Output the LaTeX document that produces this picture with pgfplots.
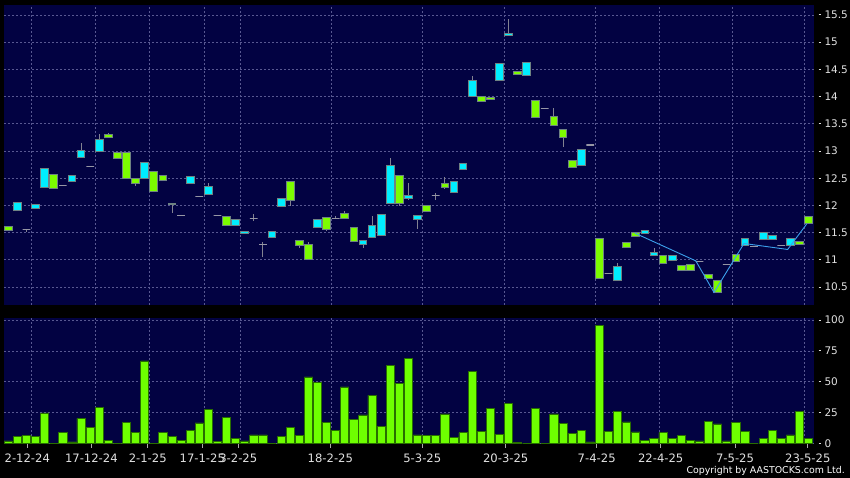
\documentclass[border=0pt]{standalone}
\usepackage{pgfplots}
\pgfplotsset{compat=1.18}
\usepackage{pgfplotstable}
\usepgfplotslibrary{statistics}
\usepackage{fontspec}
\setmainfont{DejaVu Sans}
\definecolor{navy}{RGB}{2,2,66}
\definecolor{gridc}{RGB}{88,88,145}
\definecolor{cgreen}{RGB}{124,252,0}
\definecolor{ccyan}{RGB}{0,238,255}
\definecolor{cborder}{RGB}{110,130,130}
\definecolor{wick}{RGB}{130,130,145}
\definecolor{dojic}{RGB}{150,150,165}
\definecolor{vfill}{RGB}{110,255,0}
\definecolor{vdraw}{RGB}{40,110,0}
\definecolor{lineblue}{RGB}{60,160,235}
\definecolor{labelc}{RGB}{225,225,225}
\definecolor{tickc}{RGB}{170,170,170}

\pgfplotstableread{
i v
1 1.9
2 5.9
3 6.5
4 5.9
5 24.6
6 0
7 8.6
8 1.1
9 20.3
10 13.0
11 28.9
12 2.4
13 0
14 17.0
15 8.6
16 66.8
17 0
18 8.9
19 5.9
20 2.4
21 10.5
22 16.5
23 27.3
24 1.4
25 20.8
26 3.8
27 1.9
28 6.8
29 6.8
30 0
31 5.9
32 13.2
33 6.5
34 53.8
35 49.5
36 16.8
37 10.3
38 45.7
39 19.5
40 23.0
41 38.9
42 13.8
43 63.5
44 48.4
45 68.9
46 6.8
47 6.2
48 6.2
49 23.8
50 5.1
51 8.6
52 58.6
53 9.7
54 28.1
55 7.3
56 32.2
57 0.8
58 0
59 28.1
60 0
61 23.8
62 16.2
63 7.8
64 10.8
65 1.1
66 95.7
67 9.7
68 25.7
69 17.3
70 9.2
71 2.7
72 4.3
73 8.6
74 3.8
75 6.2
76 2.7
77 1.9
78 17.6
79 15.7
80 1.9
81 17.0
82 9.7
83 0
84 3.8
85 10.3
86 4.3
87 6.8
88 25.9
89 3.8
}\voltable

\newcommand{\candle}[6]{\addplot[#6, boxplot/draw direction=y, boxplot prepared={draw position=#1, lower whisker=#4, lower quartile=#2, median=#2, upper quartile=#3, upper whisker=#5}] coordinates {};}
\newcommand{\dashmark}{\rule[0.33em]{2.5bp}{0.8bp}\hspace{3.5bp}}

\pgfplotsset{
  cG/.style={boxplot/every box/.style={draw=cborder, fill=cgreen, line width=0.9bp},
             boxplot/every whisker/.style={draw=wick, line width=0.9bp},
             boxplot/every median/.style={draw=none}},
  cC/.style={boxplot/every box/.style={draw=cborder, fill=ccyan, line width=0.9bp},
             boxplot/every whisker/.style={draw=wick, line width=0.9bp},
             boxplot/every median/.style={draw=none}},
  cD/.style={boxplot/every box/.style={draw=dojic, line width=1.2bp},
             boxplot/every whisker/.style={draw=wick, line width=0.9bp},
             boxplot/every median/.style={draw=none}},
  panel/.style={
    scale only axis, anchor=south west,
    width=810.3bp, xmin=0.527, xmax=89.63,
    axis background/.style={fill=navy},
    axis line style={draw=none},
    grid=major,
    major grid style={draw=gridc, dash pattern=on 2bp off 2bp, line width=0.7bp},
    major tick length=0pt,
    xtick={3.57,10.61,16.55,22.55,26.51,36.56,46.52,55.54,65.59,72.58,80.61,88.53},
    xticklabels={},
    xtick pos=bottom,
    ytick pos=right, yticklabel pos=right,
    yticklabel style={anchor=west, inner sep=0pt, xshift=4bp, text=labelc,
      font=\fontsize{10.5bp}{12bp}\selectfont},
  }
}

\begin{document}
\begin{tikzpicture}
\fill[black] (0bp,0bp) rectangle (850bp,478bp);
% price panel
\begin{axis}[panel, at={(4bp,173bp)}, height=300bp,
  ymin=10.169, ymax=15.684,
  ytick={10.5,11,11.5,12,12.5,13,13.5,14,14.5,15,15.5},
  yticklabels={{\dashmark10.5},{\dashmark11},{\dashmark11.5},{\dashmark12},{\dashmark12.5},{\dashmark13},{\dashmark13.5},{\dashmark14},{\dashmark14.5},{\dashmark15},{\dashmark15.5}},
  boxplot/draw direction=y, boxplot/box extend=0.85, boxplot/whisker extend=0]
\candle{1}{11.54}{11.61}{11.54}{11.61}{cG}
\candle{2}{11.91}{12.06}{11.91}{12.06}{cC}
\candle{3}{11.55}{11.55}{11.52}{11.55}{cD}
\candle{4}{11.95}{12.02}{11.95}{12.02}{cC}
\candle{5}{12.33}{12.68}{12.33}{12.68}{cC}
\candle{6}{12.31}{12.57}{12.31}{12.57}{cG}
\candle{7}{12.36}{12.36}{12.36}{12.36}{cD}
\candle{8}{12.44}{12.55}{12.44}{12.55}{cC}
\candle{9}{12.88}{13.01}{12.88}{13.15}{cC}
\candle{10}{12.72}{12.72}{12.72}{12.72}{cD}
\candle{11}{13.00}{13.21}{13.00}{13.31}{cC}
\candle{12}{13.25}{13.31}{13.25}{13.34}{cG}
\candle{13}{12.87}{12.98}{12.87}{12.98}{cG}
\candle{14}{12.50}{12.98}{12.50}{12.98}{cG}
\candle{15}{12.41}{12.50}{12.36}{12.50}{cG}
\candle{16}{12.50}{12.79}{12.50}{12.79}{cC}
\candle{17}{12.26}{12.63}{12.26}{12.63}{cG}
\candle{18}{12.46}{12.55}{12.46}{12.55}{cG}
\candle{19}{12.01}{12.04}{11.86}{12.04}{cG}
\candle{20}{11.81}{11.81}{11.81}{11.81}{cD}
\candle{21}{12.41}{12.53}{12.41}{12.53}{cC}
\candle{22}{12.17}{12.17}{12.17}{12.17}{cD}
\candle{23}{12.20}{12.35}{12.20}{12.41}{cC}
\candle{24}{11.82}{11.82}{11.82}{11.82}{cD}
\candle{25}{11.63}{11.80}{11.63}{11.80}{cG}
\candle{26}{11.63}{11.74}{11.63}{11.74}{cC}
\candle{27}{11.48}{11.52}{11.48}{11.52}{cC}
\candle{28}{11.76}{11.76}{11.72}{11.84}{cD}
\candle{29}{11.28}{11.28}{11.06}{11.33}{cD}
\candle{30}{11.41}{11.53}{11.41}{11.53}{cC}
\candle{31}{11.98}{12.13}{11.98}{12.13}{cC}
\candle{32}{12.10}{12.44}{11.99}{12.44}{cG}
\candle{33}{11.26}{11.36}{11.22}{11.36}{cG}
\candle{34}{11.00}{11.29}{11.00}{11.33}{cG}
\candle{35}{11.59}{11.74}{11.59}{11.74}{cC}
\candle{36}{11.55}{11.78}{11.53}{11.78}{cG}
\candle{37}{11.76}{11.76}{11.76}{11.81}{cD}
\candle{38}{11.76}{11.85}{11.76}{11.89}{cG}
\candle{39}{11.33}{11.60}{11.33}{11.60}{cG}
\candle{40}{11.28}{11.36}{11.22}{11.36}{cC}
\candle{41}{11.41}{11.63}{11.41}{11.80}{cC}
\candle{42}{11.45}{11.84}{11.45}{11.84}{cC}
\candle{43}{12.04}{12.74}{12.04}{12.88}{cC}
\candle{44}{12.04}{12.55}{11.99}{12.55}{cG}
\candle{45}{12.12}{12.19}{12.10}{12.41}{cC}
\candle{46}{11.74}{11.82}{11.57}{11.82}{cC}
\candle{47}{11.88}{12.00}{11.88}{12.00}{cG}
\candle{48}{12.18}{12.18}{12.10}{12.23}{cD}
\candle{49}{12.33}{12.41}{12.30}{12.52}{cG}
\candle{50}{12.24}{12.44}{12.24}{12.44}{cC}
\candle{51}{12.67}{12.77}{12.65}{12.77}{cC}
\candle{52}{14.01}{14.30}{14.01}{14.38}{cC}
\candle{53}{13.91}{14.01}{13.91}{14.01}{cG}
\candle{54}{13.94}{13.99}{13.94}{13.99}{cG}
\candle{55}{14.30}{14.61}{14.30}{14.61}{cC}
\candle{56}{15.13}{15.16}{15.13}{15.43}{cC}
\candle{57}{14.41}{14.47}{14.41}{14.47}{cG}
\candle{58}{14.38}{14.63}{14.38}{14.63}{cC}
\candle{59}{13.61}{13.93}{13.61}{13.93}{cG}
\candle{60}{13.78}{13.78}{13.78}{13.78}{cD}
\candle{61}{13.47}{13.64}{13.47}{13.79}{cG}
\candle{62}{13.25}{13.39}{13.08}{13.39}{cG}
\candle{63}{12.69}{12.83}{12.69}{12.83}{cG}
\candle{64}{12.74}{13.03}{12.74}{13.03}{cC}
\candle{65}{13.11}{13.11}{13.11}{13.11}{cD}
\candle{66}{10.66}{11.39}{10.66}{11.39}{cG}
\candle{67}{10.75}{10.75}{10.75}{10.75}{cD}
\candle{68}{10.62}{10.88}{10.62}{10.94}{cC}
\candle{69}{11.23}{11.31}{11.23}{11.31}{cG}
\candle{70}{11.43}{11.50}{11.43}{11.50}{cG}
\candle{71}{11.49}{11.54}{11.49}{11.54}{cC}
\candle{72}{11.08}{11.14}{11.08}{11.21}{cC}
\candle{73}{10.94}{11.08}{10.94}{11.08}{cG}
\candle{74}{10.99}{11.08}{10.99}{11.08}{cC}
\candle{75}{10.81}{10.90}{10.81}{10.90}{cG}
\candle{76}{10.81}{10.92}{10.81}{10.92}{cG}
\candle{77}{10.97}{10.97}{10.97}{10.97}{cD}
\candle{78}{10.66}{10.73}{10.66}{10.73}{cG}
\candle{79}{10.40}{10.62}{10.40}{10.62}{cG}
\candle{80}{10.92}{10.92}{10.92}{10.92}{cD}
\candle{81}{10.97}{11.10}{10.97}{11.10}{cG}
\candle{82}{11.27}{11.39}{11.27}{11.39}{cC}
\candle{83}{11.24}{11.24}{11.24}{11.24}{cD}
\candle{84}{11.38}{11.50}{11.38}{11.50}{cC}
\candle{85}{11.38}{11.44}{11.38}{11.44}{cC}
\candle{86}{11.27}{11.27}{11.27}{11.27}{cD}
\candle{87}{11.27}{11.40}{11.27}{11.40}{cC}
\candle{88}{11.28}{11.33}{11.28}{11.33}{cG}
\candle{89}{11.66}{11.79}{11.66}{11.79}{cG}
\addplot[lineblue, line width=0.9bp] coordinates {(69.9,11.49) (76.6,10.98) (78.6,10.40) (81.9,11.30) (86.7,11.19) (88.8,11.66)};
\end{axis}
% volume panel
\begin{axis}[panel, at={(4bp,34.3bp)}, height=125.4bp,
  ymin=-0.3, ymax=101.4,
  ytick={0,25,50,75,100},
  yticklabels={{\dashmark0},{\dashmark25},{\dashmark50},{\dashmark75},{\dashmark100}},
  extra x ticks={3.09,10.13,16.33,22.33,26.29,36.41,46.52,55.70,65.70,72.74,80.91,88.91},
  extra x tick labels={2-12-24,17-12-24,2-1-25,17-1-25,3-2-25,18-2-25,5-3-25,20-3-25,7-4-25,22-4-25,7-5-25,23-5-25},
  extra x tick style={grid=none, major tick length=4bp, tick align=outside,
    tick style={draw=tickc, line width=0.8bp},
    xticklabel style={anchor=north, inner sep=0pt, yshift=-5.5bp, text=labelc,
      font=\fontsize{11.6bp}{13bp}\selectfont}},
  ]
\addplot[ybar, bar width=0.9, fill=vfill, draw=vdraw, line width=0.8bp] table[x=i, y=v] {\voltable};
\end{axis}
\node[anchor=base east, inner sep=0pt, text=white, font=\fontsize{9.4bp}{11bp}\selectfont] at (845bp,4.7bp) {Copyright by AASTOCKS.com Ltd.};
\pgfresetboundingbox
\useasboundingbox (0bp,0bp) rectangle (850bp,478bp);
\end{tikzpicture}
\end{document}
